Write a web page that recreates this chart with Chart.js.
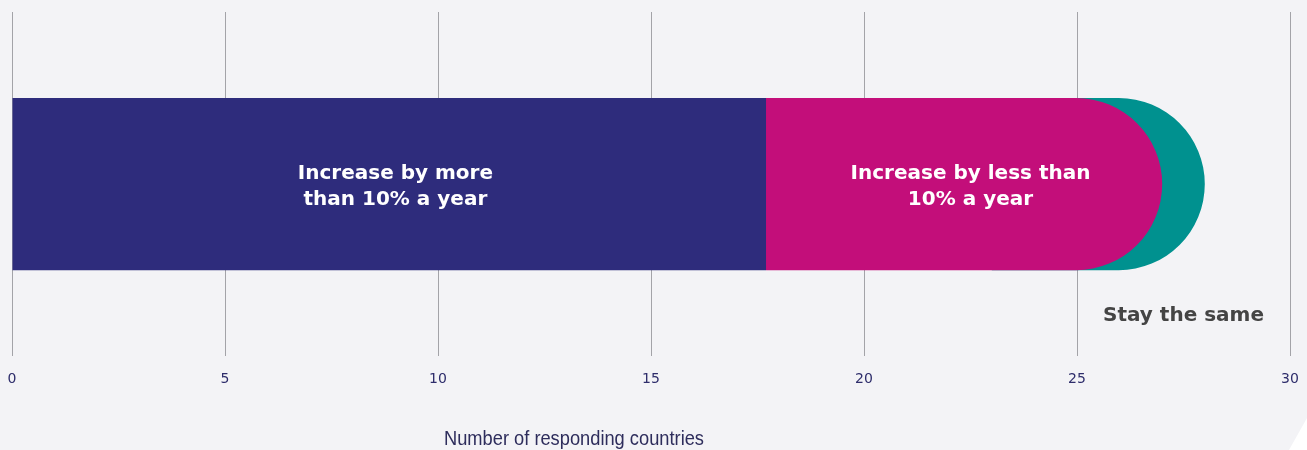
<!DOCTYPE html>
<html>
<head>
<meta charset="utf-8">
<script src="https://cdn.jsdelivr.net/npm/chart.js@4.4.0/dist/chart.umd.min.js"></script>
<style>
    html, body { margin: 0; padding: 0; background: #f3f3f6; }
    #wrap { position: relative; width: 1307px; height: 450px; overflow: hidden; }
    #corner {
        position: absolute; right: 0; bottom: 0; width: 30px; height: 32px;
        background: #ffffff; clip-path: polygon(100% 0, 100% 100%, 40% 100%);
    }
</style>
</head>
<body>
<div id="wrap">
    <canvas id="expChart" width="1307" height="450"></canvas>
    <div id="corner"></div>
</div>
<script>
// Datos
const categories = ['Responding countries'];
const segmentNames = ['Increase by more than 10% a year', 'Increase by less than 10% a year', 'Stay the same'];
const segmentLines = [['Increase by more', 'than 10% a year'], ['Increase by less than', '10% a year'], ['Stay the same']];
const segmentCounts = [18, 9, 1];
// extremos visibles de cada barra (se solapan con la siguiente)
const barStarts = [0, 17.7, 23];
const barEnds = [17.7, 27, 28];
const segmentColors = ['#2e2c7c', '#c30e7a', '#00918f'];
const tickValues = [0, 5, 10, 15, 20, 25, 30];
const axisTitle = 'Number of responding countries';

// Etiquetas dentro / debajo de la barra y titulo del eje
const segmentLabelPlugin = {
    id: 'segmentLabels',
    afterDatasetsDraw(chart) {
        const ctx = chart.ctx;
        const xs = chart.scales.x;
        const ys = chart.scales.y;
        const yMid = ys.getPixelForValue(0);
        const barMeta = chart.getDatasetMeta(0).data[0];
        const barBottom = yMid + barMeta.height / 2;
        let acc = 0;
        ctx.save();
        ctx.textAlign = 'center';
        ctx.textBaseline = 'middle';
        segmentCounts.forEach((n, i) => {
            const mid = xs.getPixelForValue(acc + n / 2);
            acc += n;
            const lines = segmentLines[i];
            ctx.font = 'bold 20px "DejaVu Sans", Verdana, sans-serif';
            if (i < 2) {
                ctx.fillStyle = '#ffffff';
                lines.forEach((t, k) => {
                    ctx.fillText(t, mid, yMid - 10 + k * 26);
                });
            } else {
                ctx.fillStyle = '#444444';
                ctx.fillText(lines[0], mid, barBottom + 46);
            }
        });

        // titulo del eje, estrecho (no centrado en el area)
        ctx.font = '21px "Liberation Sans", Arial, sans-serif';
        ctx.fillStyle = '#2e2d5c';
        ctx.translate(574, 439);
        ctx.scale(0.87, 1);
        ctx.fillText(axisTitle, 0, 0);
        ctx.restore();
    }
};

const datasets = segmentNames.map((name, i) => ({
    label: name,
    data: [[barStarts[i], barEnds[i]]],
    backgroundColor: segmentColors[i],
    borderWidth: 0,
    borderSkipped: false,
    borderRadius: i === 0 ? 0 : { topLeft: 0, bottomLeft: 0, topRight: 999, bottomRight: 999 },
    barPercentage: 0.5,
    categoryPercentage: 1,
    grouped: false
}));

const chart = new Chart(document.getElementById('expChart').getContext('2d'), {
    type: 'bar',
    data: { labels: categories, datasets: datasets },
    plugins: [segmentLabelPlugin],
    options: {
        indexAxis: 'y',
        responsive: false,
        animation: false,
        layout: { padding: { left: 12, right: 17, top: 12, bottom: 57 } },
        plugins: {
            legend: { display: false },
            tooltip: { enabled: false }
        },
        scales: {
            x: {
                min: 0,
                max: 30,
                afterBuildTicks(axis) {
                    axis.ticks = tickValues.map(v => ({ value: v }));
                },
                grid: { color: '#a3a3a8', lineWidth: 1, drawTicks: true, tickLength: 10, tickColor: 'rgba(0,0,0,0)' },
                border: { display: false },
                ticks: {
                    color: '#2e2d6b',
                    padding: 5,
                    font: { family: '"DejaVu Sans", Verdana, sans-serif', size: 14 }
                }
            },
            y: {
                display: false
            }
        }
    }
});
</script>
</body>
</html>
